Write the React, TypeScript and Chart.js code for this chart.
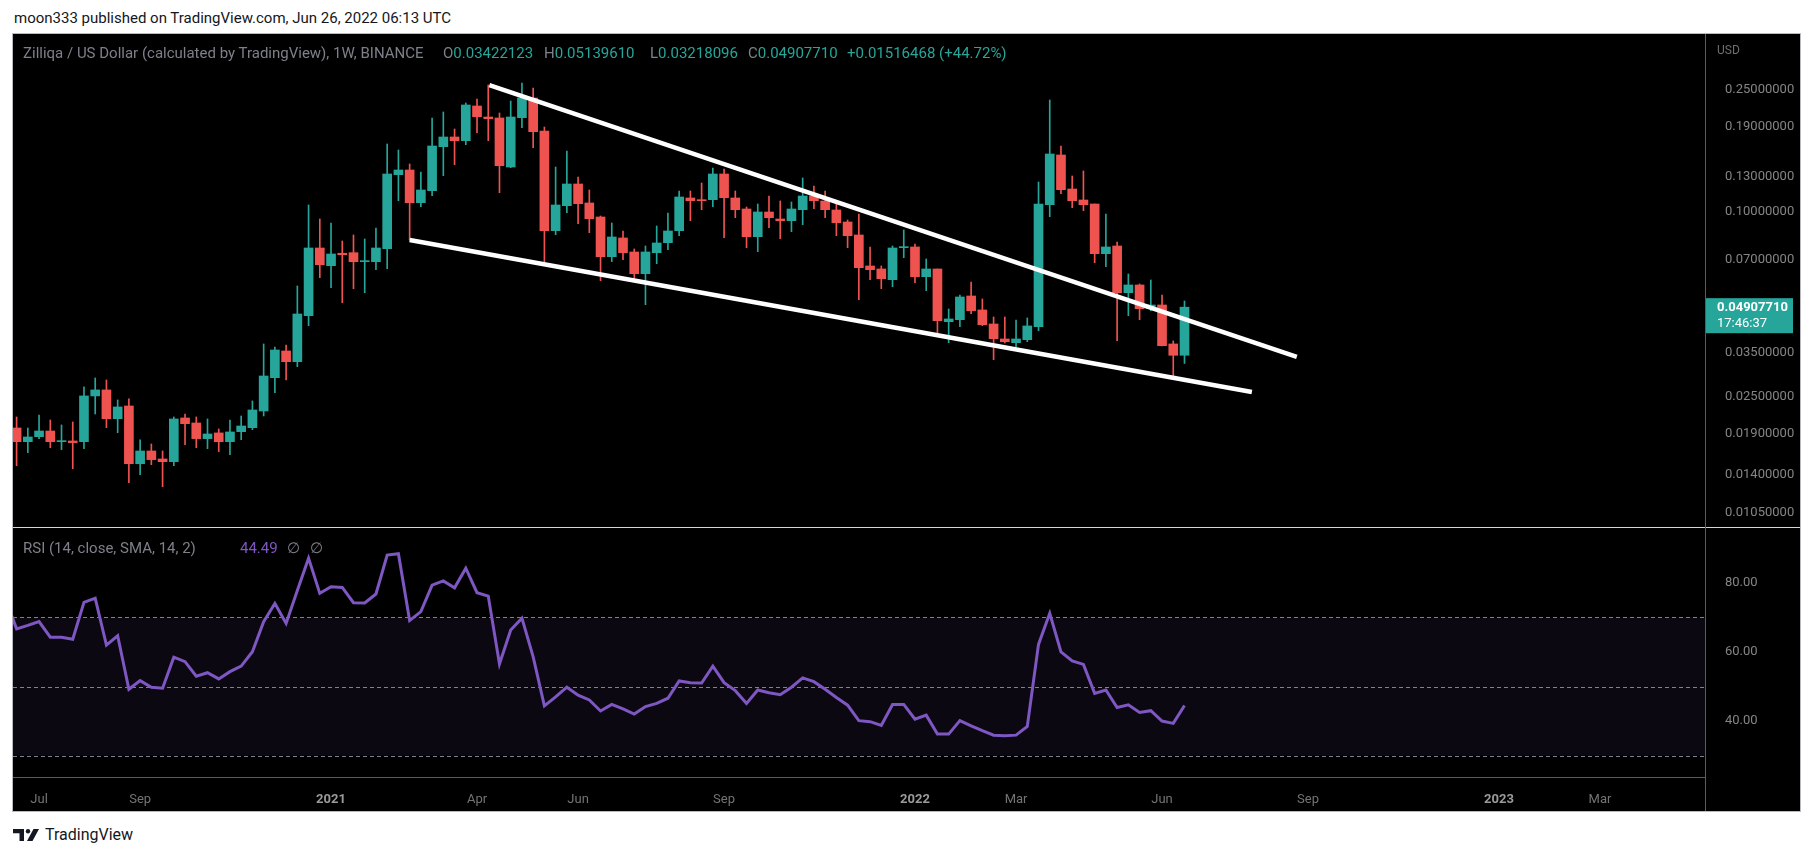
import React, { useEffect, useRef } from 'react';
import { Chart, registerables } from 'chart.js';

Chart.register(...registerables);

const FONT = "Roboto, 'Noto Sans', Arial, sans-serif";

// Weekly candles, ZIL/USD, first bar = week of 2020-06-22 (index 0), last = week of 2022-06-20 (index 104)
const openP = [
  0.01984, 0.01791, 0.01859, 0.0194, 0.01791, 0.018, 0.01791, 0.02523, 0.02639, 0.02128,
  0.0234, 0.01518, 0.0167, 0.01573, 0.01541, 0.02139, 0.0206, 0.01832, 0.01912, 0.01791,
  0.0193, 0.01989, 0.02254, 0.02893, 0.03534, 0.03262, 0.04605, 0.07649, 0.06699, 0.07351,
  0.07384, 0.06903, 0.06903, 0.07609, 0.1325, 0.13725, 0.10741, 0.11752, 0.16344, 0.17576,
  0.17096, 0.22175, 0.20419, 0.20267, 0.14037, 0.20313, 0.23545, 0.18385, 0.08708, 0.10503,
  0.12358, 0.10717, 0.09649, 0.07166, 0.08245, 0.07423, 0.06309, 0.07384, 0.07959, 0.08708,
  0.11127, 0.10985, 0.10985, 0.1332, 0.11127, 0.10246, 0.08325, 0.10018, 0.09506, 0.09386,
  0.10192, 0.11294, 0.10879, 0.10169, 0.09295, 0.08432, 0.06684, 0.06535, 0.06031, 0.07667,
  0.07707, 0.06168, 0.06535, 0.04403, 0.04469, 0.05337, 0.04806, 0.04327, 0.03867, 0.03761,
  0.03847, 0.04241, 0.10582, 0.15358, 0.11903, 0.10961, 0.10637, 0.07329, 0.07765, 0.05471,
  0.05797, 0.04853, 0.04989, 0.03725, 0.03422123,
];
const highP = [
  0.02155, 0.01984, 0.02187, 0.02107, 0.0203, 0.02076, 0.02699, 0.02887, 0.02844, 0.02448,
  0.02467, 0.01814, 0.0176, 0.0167, 0.02155, 0.02204, 0.02155, 0.02123, 0.0197, 0.02107,
  0.02171, 0.0243, 0.03725, 0.03642, 0.03697, 0.05753, 0.10558, 0.09506, 0.09225, 0.08061,
  0.08432, 0.08183, 0.08886, 0.16678, 0.15945, 0.14356, 0.13521, 0.20267, 0.21199, 0.18663,
  0.22679, 0.2337, 0.25955, 0.21041, 0.23022, 0.26347, 0.25378, 0.18945, 0.14037, 0.15826,
  0.13024, 0.11814, 0.09722, 0.09225, 0.08689, 0.07592, 0.07765, 0.0902, 0.09943, 0.11726,
  0.11726, 0.12451, 0.13932, 0.13828, 0.11726, 0.10401, 0.10637, 0.11294, 0.10879, 0.10798,
  0.12926, 0.12174, 0.11726, 0.10717, 0.09435, 0.09869, 0.07707, 0.06684, 0.07765, 0.08754,
  0.07882, 0.07044, 0.06535, 0.04842, 0.05378, 0.05928, 0.05219, 0.0456, 0.0456, 0.04459,
  0.04526, 0.12544, 0.23195, 0.1643, 0.13121, 0.13623, 0.10637, 0.09869, 0.08001, 0.06294,
  0.0584, 0.06018, 0.05378, 0.0381, 0.0513961,
];
const lowP = [
  0.01496, 0.01649, 0.01832, 0.01712, 0.01687, 0.01462, 0.01699, 0.02204, 0.01989, 0.01916,
  0.01317, 0.01399, 0.01507, 0.01278, 0.01496, 0.01751, 0.01712, 0.01699, 0.01662, 0.01625,
  0.01818, 0.01959, 0.02171, 0.02586, 0.02844, 0.03142, 0.04273, 0.06122, 0.05681, 0.05076,
  0.05638, 0.05471, 0.06501, 0.0655, 0.10904, 0.08122, 0.10424, 0.1132, 0.13151, 0.14281,
  0.16591, 0.18152, 0.17096, 0.11577, 0.13963, 0.18845, 0.16222, 0.06903, 0.08451, 0.09965,
  0.09177, 0.08578, 0.05986, 0.06903, 0.07007, 0.06031, 0.05001, 0.068, 0.07552, 0.08388,
  0.09386, 0.10192, 0.10424, 0.08263, 0.09599, 0.07667, 0.0744, 0.08906, 0.08201, 0.08643,
  0.09108, 0.10269, 0.09599, 0.08388, 0.07667, 0.05191, 0.06031, 0.05638, 0.05723, 0.07113,
  0.05897, 0.05554, 0.03994, 0.03761, 0.04241, 0.04675, 0.04273, 0.03311, 0.03753, 0.0365,
  0.03789, 0.04115, 0.09671, 0.11491, 0.10346, 0.10116, 0.06851, 0.06649, 0.03818, 0.04605,
  0.04469, 0.04781, 0.03669, 0.02937, 0.03218096,
];
const closeP = [
  0.01791, 0.01855, 0.0194, 0.01791, 0.018, 0.01778, 0.02523, 0.02639, 0.02128, 0.02323,
  0.01518, 0.0167, 0.01565, 0.01541, 0.02123, 0.02049, 0.01832, 0.01897, 0.01791, 0.01926,
  0.02014, 0.02271, 0.0293, 0.03561, 0.03262, 0.04664, 0.07649, 0.06749, 0.07312, 0.07274,
  0.06903, 0.06954, 0.07649, 0.1332, 0.13725, 0.10741, 0.11814, 0.1643, 0.17576, 0.17096,
  0.22342, 0.20465, 0.2016, 0.14175, 0.20419, 0.23545, 0.18289, 0.08708, 0.10558, 0.12358,
  0.10661, 0.09527, 0.07166, 0.08307, 0.07384, 0.06309, 0.07423, 0.07941, 0.08689, 0.1121,
  0.10904, 0.10904, 0.1332, 0.11151, 0.10192, 0.08325, 0.10018, 0.09599, 0.09386, 0.10246,
  0.11294, 0.10904, 0.10192, 0.09246, 0.08388, 0.06599, 0.06501, 0.06076, 0.07649, 0.07724,
  0.06168, 0.06535, 0.04436, 0.04493, 0.05298, 0.04781, 0.04305, 0.03876, 0.03789, 0.03867,
  0.04263, 0.10637, 0.15474, 0.11841, 0.10904, 0.10582, 0.07329, 0.07707, 0.05471, 0.05797,
  0.04853, 0.04989, 0.03678, 0.03422, 0.0490771,
];

// RSI(14), starting one week before the first visible candle (index -1)
const RSI_FIRST_INDEX = -1;
const rsiValues = [
  75.4,
  66.7, 67.7, 68.8, 64.3, 64.3, 63.7, 74.4, 75.6, 62.0, 64.7,
  49.2, 51.7, 49.8, 49.5, 58.5, 57.2, 53.0, 54.0, 52.2, 54.3,
  55.9, 60.1, 68.8, 74.1, 68.3, 77.8, 87.2, 77.0, 78.9, 78.7,
  74.3, 74.2, 76.8, 88.1, 88.5, 69.1, 71.7, 79.4, 80.6, 78.6,
  84.3, 77.2, 76.2, 56.5, 66.4, 69.8, 58.6, 44.4, 47.0, 49.8,
  47.5, 46.1, 42.9, 44.8, 43.5, 42.0, 44.2, 45.1, 46.6, 51.6,
  51.1, 51.0, 55.9, 51.1, 48.8, 45.1, 49.0, 48.2, 47.6, 49.8,
  52.5, 51.4, 49.2, 46.8, 44.6, 40.1, 39.8, 38.7, 44.8, 44.8,
  40.5, 41.7, 36.2, 36.2, 40.1, 38.6, 37.2, 35.9, 35.7, 35.9,
  38.4, 62.2, 71.2, 60.0, 57.4, 56.4, 48.0, 49.0, 43.9, 44.7,
  42.5, 43.0, 40.0, 39.3, 44.49,
];

// Time-axis labels (bar index of the first week of each labelled month)
const tickIndex = [2, 11, 28, 41, 50, 63, 80, 89, 102, 115, 132, 141];
const tickText = ['Jul', 'Sep', '2021', 'Apr', 'Jun', 'Sep', '2022', 'Mar', 'Jun', 'Sep', '2023', 'Mar'];

const priceTicks = [0.0105, 0.014, 0.019, 0.025, 0.035, 0.07, 0.1, 0.13, 0.19, 0.25];
const rsiTicks = [40, 60, 80];
const rsiLevels = [70, 50, 30];

// Drawn wedge lines (bar index, price)
const upperLineIdx = [42.1, 114];
const upperLinePrice = [0.2595, 0.0338];
const lowerLineIdx = [35, 110];
const lowerLinePrice = [0.08122, 0.026];

const X_MIN = -0.32;
const X_MAX = 150.35;
const UP = '#26a69a';
const DOWN = '#ef5350';

const zeroPad = (s: any) => {
  s.paddingTop = 0;
  s.paddingBottom = 0;
  s.paddingLeft = 0;
  s.paddingRight = 0;
};

const priceTagPlugin = {
  id: 'priceTag',
  afterDraw(chart: any) {
    const { ctx, chartArea } = chart;
    const y = chart.scales.y.getPixelForValue(closeP[closeP.length - 1]);
    ctx.save();
    ctx.fillStyle = UP;
    ctx.fillRect(chartArea.right, y - 9, 88, 35);
    ctx.fillStyle = '#ffffff';
    ctx.textBaseline = 'middle';
    ctx.textAlign = 'left';
    ctx.font = `bold 13px ${FONT}`;
    ctx.fillText(closeP[closeP.length - 1].toFixed(8), chartArea.right + 12, y + 1);
    ctx.font = `13px ${FONT}`;
    ctx.fillText('17:46:37', chartArea.right + 12, y + 17);
    ctx.restore();
  },
};

const rsiBandPlugin = {
  id: 'rsiBand',
  beforeDatasetsDraw(chart: any) {
    const { ctx, chartArea, scales } = chart;
    const y = scales.y;
    const top = y.getPixelForValue(rsiLevels[0]);
    const bot = y.getPixelForValue(rsiLevels[2]);
    ctx.save();
    ctx.fillStyle = 'rgba(126,87,194,0.09)';
    ctx.fillRect(chartArea.left, top, chartArea.right - chartArea.left, bot - top);
    ctx.strokeStyle = 'rgba(150,150,165,0.85)';
    ctx.lineWidth = 1;
    ctx.setLineDash([4, 3]);
    rsiLevels.forEach((lv) => {
      const py = Math.round(y.getPixelForValue(lv)) + 0.5;
      ctx.beginPath();
      ctx.moveTo(chartArea.left, py);
      ctx.lineTo(chartArea.right, py);
      ctx.stroke();
    });
    ctx.restore();
  },
};

export default function App() {
  const priceRef = useRef<HTMLCanvasElement>(null);
  const rsiRef = useRef<HTMLCanvasElement>(null);

  useEffect(() => {
    Chart.defaults.font.family = FONT;
    const idx = openP.map((_, i) => i);
    const colors = idx.map((i) => (closeP[i] >= openP[i] ? UP : DOWN));

    const priceChart = new Chart(priceRef.current as HTMLCanvasElement, {
      type: 'bar',
      data: {
        datasets: [
          {
            type: 'bar',
            data: idx.map((i) => ({ x: i, y: [lowP[i], highP[i]] })) as any,
            backgroundColor: colors,
            barThickness: 1,
            grouped: false,
            order: 3,
          } as any,
          {
            type: 'bar',
            data: idx.map((i) => ({ x: i, y: [openP[i], closeP[i]] })) as any,
            backgroundColor: colors,
            barThickness: 9,
            grouped: false,
            minBarLength: 1,
            order: 2,
          } as any,
          {
            type: 'line',
            data: upperLineIdx.map((x, k) => ({ x, y: upperLinePrice[k] })),
            borderColor: '#ffffff',
            borderWidth: 4.5,
            pointRadius: 0,
            order: 0,
          } as any,
          {
            type: 'line',
            data: lowerLineIdx.map((x, k) => ({ x, y: lowerLinePrice[k] })),
            borderColor: '#ffffff',
            borderWidth: 4.5,
            pointRadius: 0,
            order: 0,
          } as any,
        ],
      },
      options: {
        animation: false,
        responsive: false,
        maintainAspectRatio: false,
        events: [],
        layout: { padding: 0 },
        plugins: { legend: { display: false }, tooltip: { enabled: false } },
        scales: {
          x: {
            type: 'linear',
            min: X_MIN,
            max: X_MAX,
            display: false,
            offset: false,
            grid: { offset: false },
            afterFit: zeroPad,
          },
          y: {
            type: 'logarithmic',
            position: 'right',
            min: 0.009445,
            max: 0.3804,
            bounds: 'data',
            afterBuildTicks: (s: any) => {
              s.ticks = priceTicks.map((v) => ({ value: v }));
            },
            afterFit: (s: any) => {
              s.width = 95;
              zeroPad(s);
            },
            grid: { display: false },
            border: { display: false },
            ticks: {
              autoSkip: false,
              color: '#858585',
              padding: 12,
              font: { family: FONT, size: 13 },
              callback: (v: any) => Number(v).toFixed(8),
            },
          },
        },
      } as any,
      plugins: [priceTagPlugin],
    });

    const rsiChart = new Chart(rsiRef.current as HTMLCanvasElement, {
      type: 'line',
      data: {
        datasets: [
          {
            data: rsiValues.map((v, k) => ({ x: k + RSI_FIRST_INDEX, y: v })),
            borderColor: '#7e57c2',
            borderWidth: 3,
            pointRadius: 0,
            tension: 0,
          },
        ],
      },
      options: {
        animation: false,
        responsive: false,
        maintainAspectRatio: false,
        events: [],
        layout: { padding: 0 },
        plugins: { legend: { display: false }, tooltip: { enabled: false } },
        scales: {
          x: {
            type: 'linear',
            min: X_MIN,
            max: X_MAX,
            offset: false,
            position: 'bottom',
            afterBuildTicks: (s: any) => {
              s.ticks = tickIndex.map((v) => ({ value: v }));
            },
            afterFit: (s: any) => {
              s.height = 34;
              zeroPad(s);
            },
            grid: { display: false },
            border: { display: false },
            ticks: {
              autoSkip: false,
              maxRotation: 0,
              padding: 7,
              color: (c: any) => {
                const k = tickIndex.indexOf(c.tick?.value);
                return k >= 0 && /^\d{4}$/.test(tickText[k]) ? '#9a9a9a' : '#747474';
              },
              font: (c: any) => {
                const k = tickIndex.indexOf(c.tick?.value);
                const yr = k >= 0 && /^\d{4}$/.test(tickText[k]);
                return { family: FONT, size: 13, weight: yr ? 'bold' : 'normal' };
              },
              callback: (v: any) => {
                const k = tickIndex.indexOf(Number(v));
                return k >= 0 ? tickText[k] : '';
              },
            },
          },
          y: {
            type: 'linear',
            position: 'right',
            min: 23.77,
            max: 95.94,
            afterBuildTicks: (s: any) => {
              s.ticks = rsiTicks.map((v) => ({ value: v }));
            },
            afterFit: (s: any) => {
              s.width = 95;
              zeroPad(s);
            },
            grid: { display: false },
            border: { display: false },
            ticks: {
              autoSkip: false,
              color: '#858585',
              padding: 12,
              font: { family: FONT, size: 13 },
              callback: (v: any) => Number(v).toFixed(2),
            },
          },
        },
      } as any,
      plugins: [rsiBandPlugin],
    });

    return () => {
      priceChart.destroy();
      rsiChart.destroy();
    };
  }, []);

  const abs = (l: number, t: number, extra: any = {}) => ({ position: 'absolute' as const, left: l, top: t, ...extra });
  const grey = '#7d8089';

  return (
    <div style={{ position: 'absolute', left: 0, top: 0, width: 1813, height: 856, background: '#ffffff', overflow: 'hidden', fontFamily: FONT }}>
      <div style={abs(14, 9, { fontSize: 15, lineHeight: '18px', color: '#131722', whiteSpace: 'nowrap' })}>
        moon333 published on TradingView.com, Jun 26, 2022 06:13 UTC
      </div>

      {/* chart frame */}
      <div style={abs(12, 33, { width: 1787, height: 777, border: '1px solid #b8bac0', background: '#000' })} />
      <canvas ref={priceRef} width={1787} height={493} style={abs(13, 34, { width: 1787, height: 493 })} />
      <canvas ref={rsiRef} width={1787} height={283} style={abs(13, 528, { width: 1787, height: 283 })} />

      {/* pane separators and axis lines */}
      <div style={abs(13, 527, { width: 1787, height: 1, background: '#d6d6d6' })} />
      <div style={abs(1705, 34, { width: 1, height: 777, background: '#5c5c5c' })} />
      <div style={abs(13, 777, { width: 1692, height: 1, background: '#5c5c5c' })} />

      {/* legends */}
      <div style={abs(23, 44, { fontSize: 15, lineHeight: '18px', color: grey, whiteSpace: 'nowrap' })}>
        Zilliqa / US Dollar (calculated by TradingView), 1W, BINANCE
      </div>
      {[
        ['O', '0.03422123', 443],
        ['H', '0.05139610', 544],
        ['L', '0.03218096', 650],
        ['C', '0.04907710', 748],
      ].map(([k, v, x]) => (
        <div key={k as string} style={abs(x as number, 44, { fontSize: 15, lineHeight: '18px', whiteSpace: 'nowrap' })}>
          <span style={{ color: grey }}>{k}</span>
          <span style={{ color: UP }}>{v}</span>
        </div>
      ))}
      <div style={abs(847, 44, { fontSize: 15, lineHeight: '18px', color: UP, whiteSpace: 'nowrap' })}>
        +0.01516468 (+44.72%)
      </div>
      <div style={abs(1717, 42, { fontSize: 12, lineHeight: '16px', color: '#6f6f6f' })}>USD</div>

      <div style={abs(23, 539, { fontSize: 15, lineHeight: '18px', color: grey, whiteSpace: 'nowrap' })}>
        RSI (14, close, SMA, 14, 2)
      </div>
      <div style={abs(240, 539, { fontSize: 15, lineHeight: '18px', color: '#7e57c2' })}>44.49</div>
      <div style={abs(287, 539, { fontSize: 15, lineHeight: '18px', color: grey })}>∅</div>
      <div style={abs(310, 539, { fontSize: 15, lineHeight: '18px', color: grey })}>∅</div>

      {/* footer logo */}
      <svg style={abs(13, 829)} width={30} height={12} viewBox="0 0 30 12">
        <path d="M0 0 H11 V12 H6.5 V4.2 H0 Z" fill="#131722" />
        <circle cx={15} cy={2.2} r={2.2} fill="#131722" />
        <path d="M20.5 0 H26 L19.5 12 H14 Z" fill="#131722" />
      </svg>
      <div style={abs(45, 825, { fontSize: 16, lineHeight: '20px', color: '#131722', whiteSpace: 'nowrap' })}>TradingView</div>
    </div>
  );
}
